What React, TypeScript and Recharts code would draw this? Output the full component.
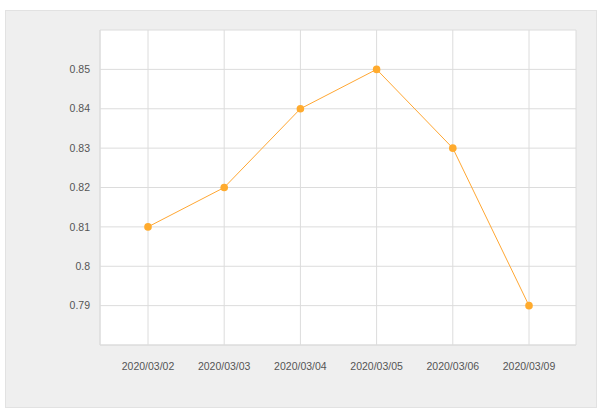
import React from 'react';
import { LineChart, Line, XAxis, YAxis, CartesianGrid } from 'recharts';

const categories = ['2020/03/02', '2020/03/03', '2020/03/04', '2020/03/05', '2020/03/06', '2020/03/09'];
const values = [0.81, 0.82, 0.84, 0.85, 0.83, 0.79];
const yTicks = [0.78, 0.79, 0.8, 0.81, 0.82, 0.83, 0.84, 0.85, 0.86];

const data = categories.map((c, i) => ({ date: c, value: values[i] }));

const tickStyle = { fontFamily: 'Liberation Sans, Arial, sans-serif', fontSize: 10.5, fill: '#555' };

export default function App() {
  return (
    <div style={{ position: 'absolute', left: 0, top: 0, width: 598, height: 413, background: '#fff' }}>
      <div
        style={{
          position: 'absolute',
          left: 5,
          top: 10,
          width: 590,
          height: 396,
          background: '#efefef',
          border: '1px solid #e2e2e2',
        }}
      />
      <div style={{ position: 'absolute', left: 0, top: 0 }}>
        <LineChart width={598} height={413} data={data} margin={{ top: 30, right: 22, bottom: 38, left: 0 }}>
          <CartesianGrid stroke="#dcdcdc" fill="#ffffff" fillOpacity={1} />
          <XAxis
            dataKey="date"
            padding={{ left: 48, right: 47 }}
            tickLine={false}
            tickSize={0}
            tickMargin={18}
            axisLine={{ stroke: '#dcdcdc' }}
            tick={tickStyle}
            height={30}
            interval={0}
          />
          <YAxis
            domain={[0.78, 0.86]}
            ticks={yTicks}
            tickFormatter={(v: number) => (v <= 0.78 + 1e-9 || v >= 0.86 - 1e-9 ? '' : String(Number(v.toFixed(2))))}
            tickLine={false}
            tickSize={0}
            tickMargin={10}
            axisLine={{ stroke: '#dcdcdc' }}
            tick={tickStyle}
            width={100}
            interval={0}
          />
          <YAxis
            yAxisId="r"
            orientation="right"
            domain={[0.78, 0.86]}
            tick={false}
            tickLine={false}
            axisLine={{ stroke: '#dcdcdc' }}
            width={0}
          />
          <Line
            type="linear"
            dataKey="value"
            stroke="#ffa733"
            strokeWidth={1}
            dot={{ r: 3.8, fill: '#ffab2e', stroke: '#ffab2e', strokeWidth: 0 }}
            activeDot={false}
            isAnimationActive={false}
          />
        </LineChart>
      </div>
    </div>
  );
}
